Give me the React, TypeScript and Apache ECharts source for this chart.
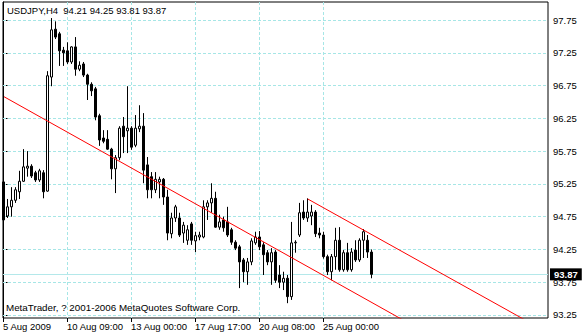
import React, { useEffect, useRef } from "react";
import * as echarts from "echarts";

const titleText = "USDJPY,H4  94.21 94.25 93.81 93.87";
const copyrightText = "MetaTrader, ? 2001-2006 MetaQuotes Software Corp.";

// H4 bars, oldest first
const opens = [
  95.28, 94.76, 94.9, 95.0, 95.13, 95.29, 95.49, 95.52, 95.42, 95.31,
  95.42, 95.14, 96.88, 97.61, 97.54, 97.29, 97.28, 97.11, 97.34, 97.0,
  97.08, 96.91, 96.77, 96.7, 96.29, 95.95, 95.93, 95.78, 95.48, 95.65,
  96.13, 96.06, 96.1, 95.84, 96.09, 96.13, 95.54, 95.36, 95.16, 95.28,
  95.32, 95.05, 94.49, 94.73, 94.73, 94.5, 94.39, 94.64, 94.38, 94.44,
  94.44, 94.9, 94.96, 95.03, 94.59, 94.7, 94.67, 94.55, 94.36, 94.29,
  94.09, 93.91, 94.06, 94.35, 94.44, 94.32, 94.2, 94.06, 94.21, 93.86,
  93.75, 93.81, 93.53, 94.35, 94.47, 94.82, 94.73, 94.76, 94.82, 94.5,
  94.47, 94.14, 93.91, 94.14, 94.39, 93.94, 94.2, 93.94, 94.24, 94.09,
  94.39, 94.39, 94.21,
];
const highs = [
  95.31, 95.02, 95.2, 95.2, 95.45, 95.78, 95.75, 95.55, 95.45, 95.48,
  95.46, 96.97, 97.78, 97.73, 97.57, 97.34, 97.41, 97.35, 97.49, 97.12,
  97.11, 96.93, 96.8, 96.73, 96.32, 96.07, 96.07, 95.8, 95.69, 96.13,
  96.27, 96.74, 96.13, 96.3, 96.45, 96.33, 95.66, 95.43, 95.43, 95.36,
  95.34, 95.16, 94.81, 94.93, 94.81, 94.67, 94.62, 94.67, 94.52, 94.52,
  95.0, 95.0, 95.26, 95.13, 94.78, 94.75, 94.9, 94.58, 94.39, 94.32,
  94.12, 94.12, 94.42, 94.52, 94.53, 94.36, 94.24, 94.27, 94.24, 94.01,
  93.91, 93.86, 94.67, 94.39, 94.96, 95.0, 95.03, 94.93, 94.85, 94.58,
  94.52, 94.17, 94.18, 94.58, 94.59, 94.24, 94.35, 94.27, 94.39, 94.42,
  94.56, 94.47, 94.25,
];
const lows = [
  94.62, 94.73, 94.75, 94.96, 95.02, 95.28, 95.36, 95.34, 95.28, 95.28,
  95.03, 95.13, 96.74, 97.46, 97.05, 97.05, 97.08, 97.08, 96.9, 96.97,
  96.88, 96.53, 96.59, 96.22, 95.83, 95.87, 95.77, 95.32, 95.11, 95.61,
  95.72, 95.72, 95.77, 95.81, 96.04, 95.26, 95.03, 95.03, 95.11, 95.03,
  94.93, 94.39, 94.42, 94.67, 94.44, 94.35, 94.32, 94.32, 94.21, 94.39,
  94.42, 94.7, 94.81, 94.58, 94.55, 94.52, 94.44, 94.32, 94.24, 93.66,
  93.75, 93.71, 94.01, 94.32, 94.24, 93.86, 94.01, 93.71, 93.74, 93.66,
  93.63, 93.43, 93.48, 94.2, 94.44, 94.7, 94.67, 94.62, 94.44, 94.42,
  94.11, 93.86, 93.78, 93.94, 93.91, 93.91, 93.91, 93.91, 94.06, 94.06,
  94.12, 94.12, 93.81,
];
const closes = [
  94.7, 94.9, 95.0, 95.16, 95.29, 95.51, 95.52, 95.37, 95.31, 95.45,
  95.13, 96.9, 97.6, 97.49, 97.28, 97.25, 97.11, 97.34, 97.0, 97.06,
  96.91, 96.77, 96.67, 96.27, 95.92, 95.9, 95.78, 95.48, 95.65, 96.1,
  95.97, 96.1, 95.81, 96.1, 96.13, 95.46, 95.16, 95.16, 95.32, 95.32,
  95.05, 94.5, 94.73, 94.9, 94.47, 94.62, 94.55, 94.39, 94.46, 94.47,
  94.9, 94.96, 95.03, 94.59, 94.67, 94.58, 94.47, 94.36, 94.27, 94.06,
  93.91, 94.06, 94.38, 94.44, 94.29, 94.17, 94.06, 94.2, 93.78, 93.75,
  93.81, 93.53, 94.35, 94.36, 94.81, 94.73, 94.82, 94.82, 94.49, 94.47,
  94.14, 93.91, 94.14, 94.39, 93.94, 94.2, 93.94, 94.21, 94.09, 94.39,
  94.52, 94.21, 93.87,
];

const xLabelBars = [0, 16, 32, 48, 64, 80];
const xLabels = ["5 Aug 2009", "10 Aug 09:00", "13 Aug 00:00", "17 Aug 17:00", "20 Aug 08:00", "25 Aug 00:00"];
const yTicks = [93.25, 93.75, 94.25, 94.75, 95.25, 95.75, 96.25, 96.75, 97.25, 97.75];
const lastPrice = 93.87;
const trendLine = [[0.125, 96.58], [100, 93.17]];
const channelLine = [[76.05, 95.02], [130.5, 93.17]];

const GRID = "#a6e6e6";
const PRICE = "#b4e8ea";
const FONT = '"Liberation Sans", Arial, sans-serif';
const HALF = 0.125;

export default function App() {
  const ref = useRef<HTMLDivElement>(null);
  useEffect(() => {
    if (!ref.current) return;
    const chart = echarts.init(ref.current, undefined, { renderer: "svg" });
    const candles = opens.map((o, i) => [i, o, closes[i], lows[i], highs[i]]);
    const tickVals = xLabelBars.map((b) => b - HALF);
    chart.setOption({
      animation: false,
      backgroundColor: "#ffffff",
      textStyle: { fontFamily: FONT },
      grid: {
        left: 3,
        right: 36,
        top: 2,
        bottom: 14,
        show: true,
        borderColor: "#000",
        borderWidth: 1,
        backgroundColor: "transparent",
      },
      xAxis: {
        type: "value",
        min: -HALF,
        max: 136.125,
        interval: 8,
        axisLine: { show: false },
        axisTick: {
          show: true,
          customValues: tickVals,
          length: 4,
          lineStyle: { color: "#000" },
        },
        axisLabel: {
          customValues: tickVals,
          showMinLabel: true,
          showMaxLabel: true,
          align: "left",
          color: "#000",
          fontSize: 9.5,
          fontFamily: FONT,
          margin: 3,
          formatter: (v: number) => {
            const idx = tickVals.findIndex((t) => Math.abs(t - v) < 0.01);
            return idx >= 0 ? xLabels[idx] : "";
          },
        },
        splitLine: { show: true, lineStyle: { color: GRID, type: [3, 2], width: 1 } },
      },
      yAxis: {
        type: "value",
        position: "right",
        min: 93.204,
        max: 98.025,
        scale: true,
        axisLine: { show: true, lineStyle: { color: "#000" } },
        axisTick: { show: true, customValues: yTicks, length: 4, lineStyle: { color: "#000" } },
        axisLabel: {
          customValues: yTicks,
          color: "#000",
          fontSize: 9.5,
          fontFamily: FONT,
          margin: 5,
          formatter: (v: number) => v.toFixed(2),
        },
        splitLine: { show: false },
      },
      graphic: [
        {
          type: "text",
          left: 7,
          top: 5,
          style: { text: titleText, fill: "#000", font: `9.5px ${FONT}` },
          z: 10,
        },
        {
          type: "text",
          left: 6,
          top: 302,
          style: { text: copyrightText, fill: "#000", font: `9.8px ${FONT}` },
          z: 10,
        },
      ],
      series: [
        {
          type: "candlestick",
          data: candles,
          barWidth: 2,
          z: 2,
          itemStyle: {
            color: "#ffffff",
            color0: "#000000",
            borderColor: "#000000",
            borderColor0: "#000000",
            borderWidth: 1,
          },
          markLine: {
            silent: true,
            symbol: ["none", "none"],
            z: 1,
            animation: false,
            label: { show: false },
            lineStyle: { color: GRID, type: [3, 2], width: 1 },
            data: [
              ...yTicks.map((v) => ({ yAxis: v })),
              {
                yAxis: lastPrice,
                lineStyle: { color: PRICE, type: "solid", width: 1 },
                label: {
                  show: true,
                  position: "end",
                  distance: 2,
                  formatter: lastPrice.toFixed(2),
                  color: "#fff",
                  backgroundColor: "#000",
                  padding: [1, 4, 1, 4],
                  fontSize: 9.5,
                  fontWeight: "bold",
                  fontFamily: FONT,
                },
              },
            ],
          },
        },
        {
          type: "line",
          data: trendLine,
          showSymbol: false,
          symbol: "none",
          z: 4,
          lineStyle: { color: "#ff0000", width: 1 },
          clip: true,
        },
        {
          type: "line",
          data: channelLine,
          showSymbol: false,
          symbol: "none",
          z: 4,
          lineStyle: { color: "#ff0000", width: 1 },
          clip: true,
        },
      ],
    });
    return () => chart.dispose();
  }, []);
  return (
    <div
      ref={ref}
      style={{ position: "fixed", left: 0, top: 0, width: 584, height: 332, background: "#fff" }}
    />
  );
}
